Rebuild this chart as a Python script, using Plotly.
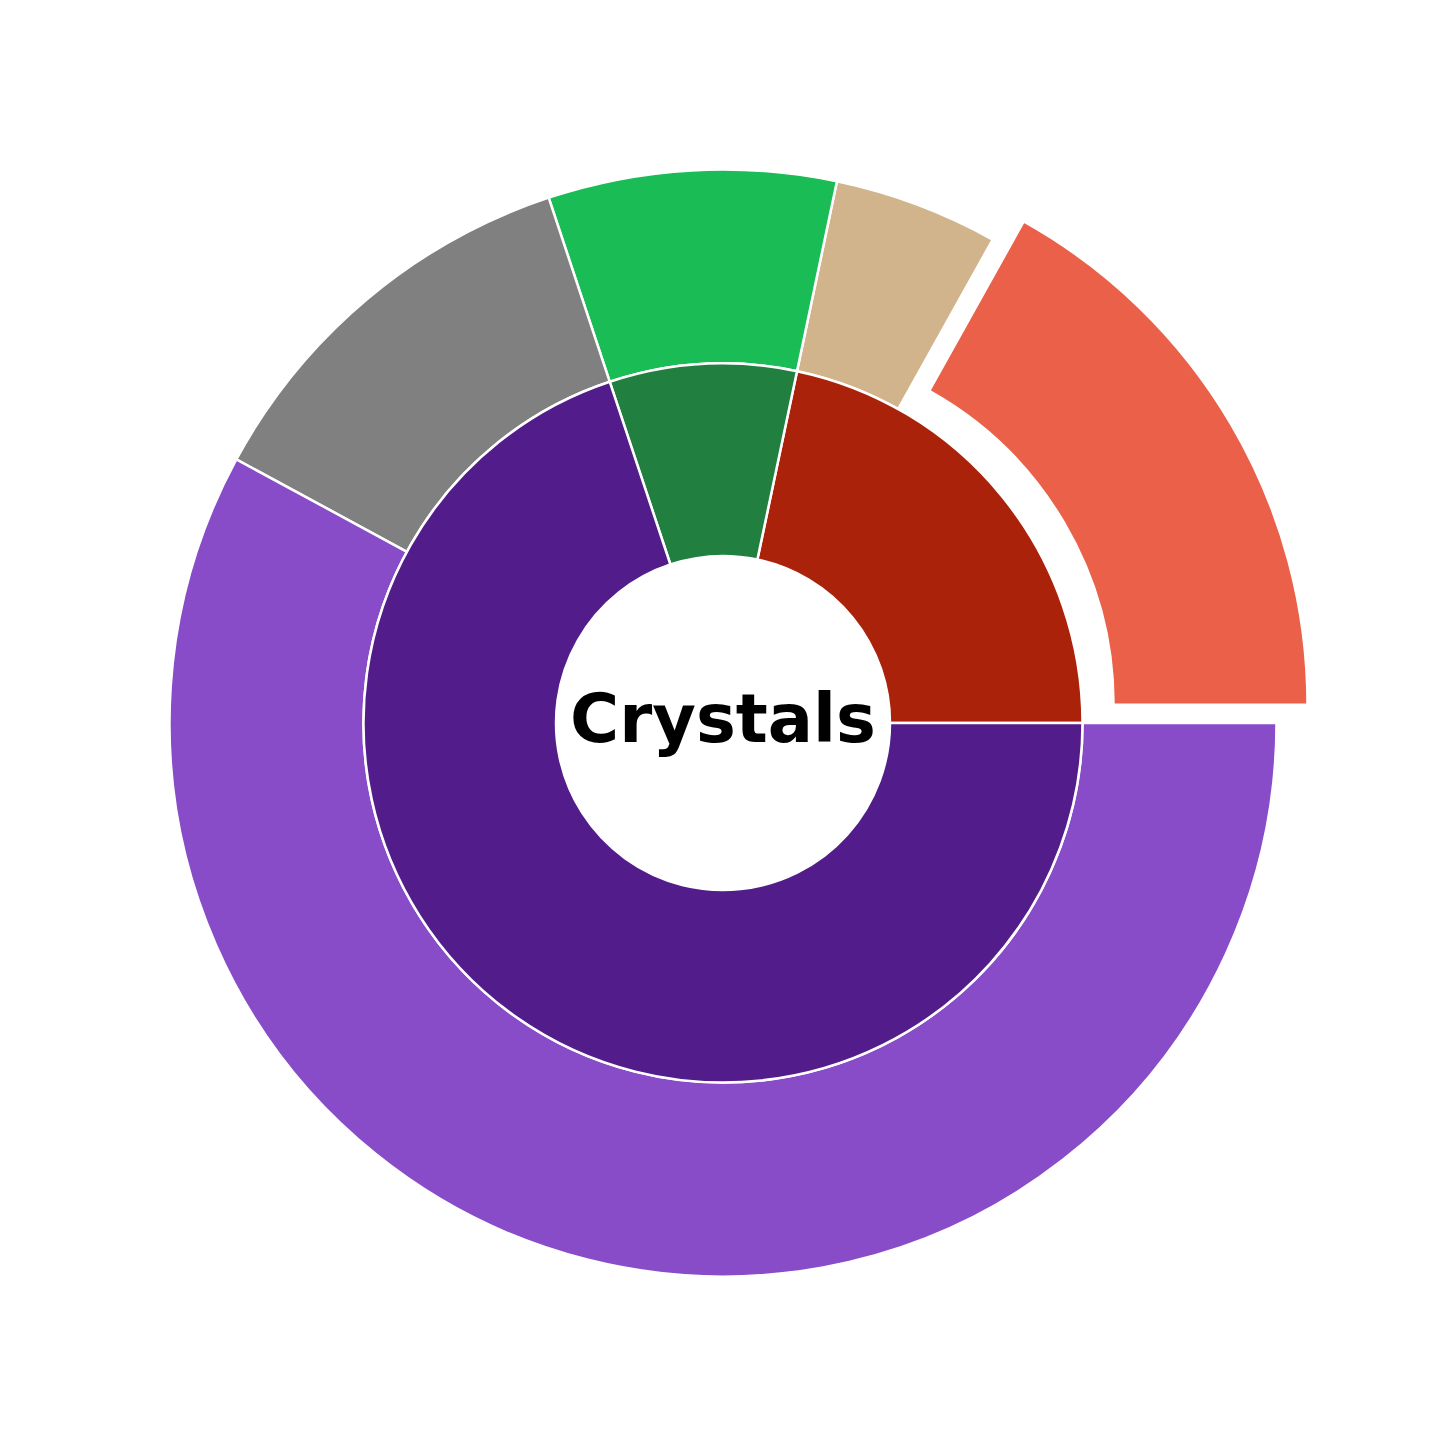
import plotly.graph_objects as go

# Data
inner_labels = ["Quartz family", "Beryl family", "Amethyst family"]
inner_values = [21.7, 8.4, 69.9]
inner_colors = ["#AA2209", "#217F40", "#521C8A"]

outer_labels = ["Rose quartz", "Citrine", "Emerald", "Smoky quartz", "Amethyst"]
outer_values = [16.9, 4.8, 8.4, 12.0, 57.9]
outer_colors = ["#EA6049", "#D2B48C", "#1ABC55", "#808080", "#884CC9"]
outer_pull = [0.065, 0, 0, 0, 0]

center_text = "Crystals"

W = 1446
R_outer = 553.5
R_inner = 359.5
R_hole = 167
cx = 0.5


def dom(r, pull):
    half = r * (1 + pull) / W
    return [cx - half, cx + half]


def start_rotation(values):
    # plotly's counterclockwise pies end the first slice at `rotation`;
    # shift so the first slice starts at 3 o'clock and runs counterclockwise
    return 90 - 360 * values[0] / sum(values)


fig = go.Figure()
fig.add_trace(go.Pie(
    labels=outer_labels, values=outer_values,
    marker=dict(colors=outer_colors, line=dict(color="white", width=2.5)),
    hole=R_inner / R_outer, pull=outer_pull, sort=False, direction="counterclockwise",
    rotation=start_rotation(outer_values),
    textinfo="none", hoverinfo="label+value", showlegend=False,
    domain=dict(x=dom(R_outer, max(outer_pull)), y=dom(R_outer, max(outer_pull))),
))
fig.add_trace(go.Pie(
    labels=inner_labels, values=inner_values,
    marker=dict(colors=inner_colors, line=dict(color="white", width=2.5)),
    hole=R_hole / R_inner, sort=False, direction="counterclockwise",
    rotation=start_rotation(inner_values),
    textinfo="none", hoverinfo="label+value", showlegend=False,
    domain=dict(x=dom(R_inner, 0), y=dom(R_inner, 0)),
))
fig.add_annotation(text="<b>" + center_text + "</b>", x=0.5, y=0.503, xref="paper", yref="paper",
                   showarrow=False, xanchor="center", yanchor="middle",
                   font=dict(family="DejaVu Sans", size=67, color="black"))
fig.update_layout(width=W, height=W, margin=dict(l=0, r=0, t=0, b=0),
                  paper_bgcolor="white", plot_bgcolor="white", showlegend=False)
fig.write_html("out.html")
